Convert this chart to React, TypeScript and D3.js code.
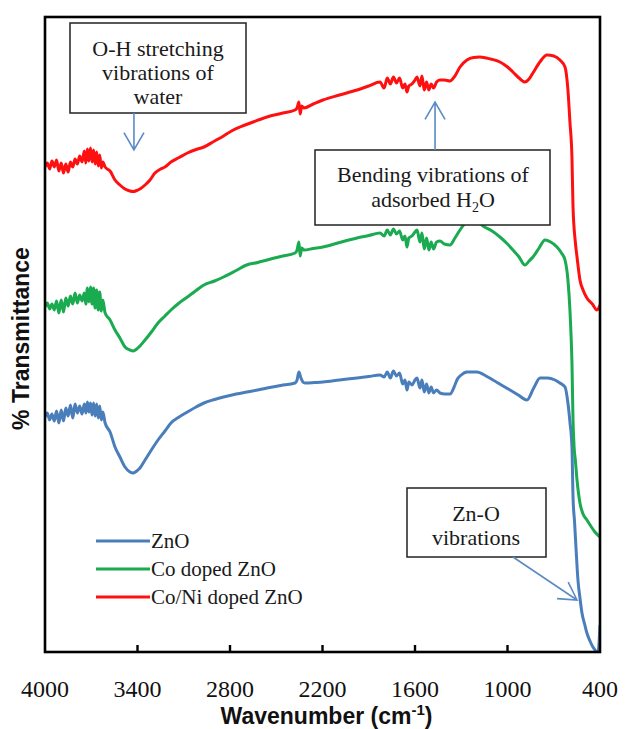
import React from "react";
import * as d3 from "d3";

// FTIR spectra of ZnO, Co doped ZnO and Co/Ni doped ZnO
const W = 625;
const H = 729;

const xTicks = [4000, 3400, 2800, 2200, 1600, 1000, 400];
const seriesNames = ["ZnO", "Co doped ZnO", "Co/Ni doped ZnO"];
const seriesColors = ["#4a7ebb", "#1aaa4f", "#ff1010"];

// [wavenumber (cm-1), transmittance (a.u.)]
const znoData: [number, number][] = [
  [4000, 47.0], [3985, 47.8], [3970, 46.4], [3955, 47.6], [3940, 46.2], [3925, 48.2], [3910, 45.8], [3895, 48.4],
  [3880, 46.2], [3865, 48.8], [3850, 47.2], [3835, 49.4], [3820, 46.8], [3805, 49.6], [3790, 47.8], [3775, 49.2],
  [3760, 47.6], [3745, 49.6], [3735, 47.8], [3725, 50.0], [3715, 48.0], [3705, 49.8], [3695, 47.4], [3685, 49.8],
  [3675, 47.2], [3665, 49.6], [3655, 46.8], [3645, 49.2], [3635, 46.4], [3625, 48.0], [3610, 45.8],
  [3578, 44.0], [3546, 41.0], [3514, 39.0], [3481, 37.0], [3449, 36.0], [3427, 35.8], [3405, 36.2], [3384, 36.8],
  [3351, 38.4], [3310, 40.4], [3267, 42.4], [3222, 44.2], [3183, 45.8], [3130, 47.0], [3076, 48.0], [3020, 49.0],
  [2969, 49.8], [2900, 50.5], [2842, 51.0], [2760, 51.6], [2692, 52.0], [2620, 52.4], [2560, 52.8], [2470, 53.3],
  [2378, 53.8], [2365, 54.4], [2353, 56.0], [2340, 54.8], [2327, 54.0], [2314, 53.8], [2250, 53.9], [2197, 54.0],
  [2090, 54.4], [1976, 54.8], [1900, 55.1], [1827, 55.4], [1800, 55.0], [1780, 56.0], [1760, 54.8], [1740, 56.2],
  [1720, 55.2], [1700, 55.8], [1680, 53.6], [1665, 54.4], [1652, 52.4], [1640, 54.0], [1620, 53.4], [1600, 54.4],
  [1587, 54.8], [1568, 52.8], [1555, 54.4], [1540, 52.0], [1525, 53.6], [1510, 51.8], [1495, 53.0], [1480, 51.8],
  [1460, 52.4], [1438, 51.8], [1406, 51.6], [1373, 51.6], [1341, 53.4], [1328, 54.4], [1300, 55.4], [1263, 56.0],
  [1198, 56.0], [1140, 55.2], [1094, 54.4], [1040, 53.4], [984, 52.4], [930, 51.4], [874, 50.4], [830, 52.8],
  [789, 54.8], [740, 54.8], [692, 54.4], [660, 53.8], [627, 53.0], [608, 49.8], [595, 46.0], [582, 41.0],
  [575, 31.0], [565, 26.0], [556, 21.0], [543, 14.4], [530, 10.8], [517, 7.8], [500, 5.6], [485, 3.8],
  [465, 2.2], [446, 1.0], [413, 0.0], [400, 5.4],
];

const coData: [number, number][] = [
  [4000, 69.0], [3985, 69.8], [3970, 68.6], [3955, 69.6], [3940, 68.4], [3925, 70.2], [3910, 67.8], [3895, 70.4],
  [3880, 68.0], [3865, 70.8], [3850, 69.2], [3835, 71.2], [3820, 69.6], [3805, 71.8], [3790, 69.8], [3775, 71.4],
  [3760, 70.2], [3745, 71.8], [3735, 69.6], [3725, 72.8], [3715, 70.0], [3705, 73.0], [3695, 69.6], [3685, 72.8],
  [3675, 68.8], [3665, 72.4], [3655, 68.4], [3645, 72.0], [3635, 68.2], [3625, 70.4], [3610, 67.8],
  [3578, 66.4], [3546, 64.4], [3514, 62.8], [3481, 61.0], [3449, 60.4], [3427, 60.2], [3405, 60.6], [3384, 61.2],
  [3351, 62.4], [3310, 64.0], [3267, 65.8], [3222, 67.2], [3183, 68.4], [3130, 69.8], [3076, 71.0], [3020, 72.3],
  [2969, 73.4], [2900, 74.2], [2842, 75.0], [2760, 76.3], [2692, 77.4], [2620, 77.9], [2560, 78.4], [2470, 79.1],
  [2378, 79.8], [2365, 80.4], [2353, 82.0], [2345, 79.2], [2335, 80.8], [2320, 80.4], [2260, 80.7], [2197, 81.0],
  [2090, 81.9], [1976, 82.8], [1900, 83.3], [1827, 83.8], [1800, 83.2], [1780, 84.4], [1760, 83.4], [1740, 84.6],
  [1720, 83.6], [1700, 84.2], [1680, 82.4], [1665, 83.2], [1652, 81.0], [1640, 82.8], [1620, 83.2], [1600, 84.0],
  [1587, 84.4], [1568, 82.0], [1555, 83.8], [1540, 80.6], [1525, 82.8], [1510, 80.4], [1495, 82.0], [1480, 80.6],
  [1460, 82.0], [1438, 82.2], [1410, 81.6], [1373, 81.4], [1341, 82.8], [1308, 84.4], [1263, 86.0], [1200, 86.2],
  [1159, 85.2], [1100, 84.2], [1049, 83.0], [1000, 81.6], [965, 80.4], [925, 79.0], [887, 77.4], [860, 78.2],
  [835, 79.0], [795, 80.8], [757, 82.4], [720, 82.0], [679, 81.0], [650, 79.8], [627, 78.4], [608, 74.4],
  [595, 68.4], [590, 65.0], [582, 58.0], [575, 46.4], [568, 41.0], [560, 38.4], [549, 34.4], [530, 29.8],
  [510, 27.6], [485, 26.4], [460, 25.2], [433, 24.0], [400, 23.0],
];

const coNiData: [number, number][] = [
  [4000, 97.0], [3985, 97.8], [3970, 96.6], [3955, 98.2], [3940, 97.0], [3925, 98.4], [3910, 96.2], [3895, 97.8],
  [3880, 95.8], [3865, 97.6], [3850, 96.0], [3835, 98.0], [3820, 97.0], [3805, 98.6], [3790, 97.6], [3775, 99.2],
  [3760, 98.0], [3745, 100.2], [3735, 97.8], [3725, 100.6], [3715, 98.2], [3705, 100.8], [3695, 98.0], [3685, 100.4],
  [3675, 97.6], [3665, 100.0], [3655, 97.2], [3645, 99.4], [3635, 96.8], [3625, 98.0], [3610, 97.0],
  [3578, 96.2], [3546, 94.4], [3514, 93.4], [3481, 92.6], [3449, 92.2], [3427, 92.1], [3405, 92.3], [3384, 92.6],
  [3351, 93.4], [3319, 94.4], [3287, 95.8], [3250, 96.6], [3222, 97.0], [3183, 98.0], [3130, 98.9], [3076, 99.8],
  [3020, 100.5], [2969, 101.0], [2900, 102.2], [2842, 103.2], [2790, 104.2], [2735, 105.0], [2650, 106.0], [2560, 107.0],
  [2470, 107.7], [2378, 108.4], [2365, 108.8], [2353, 110.0], [2345, 107.6], [2335, 109.2], [2320, 108.8], [2260, 109.6],
  [2197, 110.4], [2090, 111.4], [1976, 112.4], [1900, 113.2], [1827, 114.0], [1800, 112.8], [1780, 114.8], [1760, 113.6],
  [1740, 115.0], [1720, 113.8], [1700, 114.8], [1680, 112.8], [1665, 113.6], [1652, 112.0], [1640, 113.2], [1620, 113.6],
  [1600, 114.4], [1587, 115.0], [1568, 113.2], [1555, 115.2], [1540, 112.4], [1525, 114.0], [1510, 112.4], [1495, 113.6],
  [1480, 112.8], [1460, 114.0], [1438, 114.4], [1410, 114.4], [1373, 114.2], [1341, 115.2], [1308, 117.0], [1263, 118.4],
  [1220, 118.9], [1179, 119.0], [1110, 118.6], [1049, 118.0], [1000, 117.0], [965, 116.0], [925, 114.8], [887, 114.0],
  [860, 114.6], [835, 115.8], [790, 118.0], [744, 119.4], [700, 119.2], [660, 118.4], [627, 117.0], [608, 112.4],
  [595, 106.0], [582, 99.0], [575, 89.0], [560, 82.0], [549, 79.0], [530, 74.4], [510, 72.4], [485, 70.8],
  [450, 69.6], [420, 68.4], [400, 69.4],
];

const seriesData = [znoData, coData, coNiData];

// annotation texts and the point (in data units) each arrow points at
const ohLines = ["O-H stretching", "vibrations of", "water"];
const bendLines = ["Bending vibrations of", "adsorbed H"];
const znoLines = ["Zn-O", "vibrations"];
const ohTip: [number, number] = [3423, 100.4];
const bendTip: [number, number] = [1470, 110];
const znoTip: [number, number] = [549, 10.4];

const serif = "'Liberation Serif', 'Times New Roman', serif";
const sans = "'Liberation Sans', Arial, sans-serif";

const margin = { top: 17, right: 25, bottom: 77, left: 45 };
const xScale = d3.scaleLinear().domain([4000, 400]).range([margin.left, W - margin.right]);
const yScale = d3.scaleLinear().domain([0, 127]).range([H - margin.bottom, margin.top]);

function arrowPath(x1: number, y1: number, x2: number, y2: number) {
  const a = Math.atan2(y2 - y1, x2 - x1);
  const L = 20;
  const h = Math.PI / 6;
  const p1 = [x2 - L * Math.cos(a - h), y2 - L * Math.sin(a - h)];
  const p2 = [x2 - L * Math.cos(a + h), y2 - L * Math.sin(a + h)];
  return `M${x1},${y1}L${x2},${y2}M${p1[0]},${p1[1]}L${x2},${y2}L${p2[0]},${p2[1]}`;
}

export default function App() {
  const [x0, x1] = xScale.range();
  const [y0, y1] = yScale.range(); // y0 bottom, y1 top
  const line = d3
    .line<[number, number]>()
    .x((d) => xScale(d[0]))
    .y((d) => yScale(d[1]))
    .curve(d3.curveMonotoneX);

  const arrowColor = "#5b8bc6";

  return (
    <svg
      width={W}
      height={H}
      style={{ position: "absolute", left: 0, top: 0, background: "#fff" }}
    >
      <defs>
        <clipPath id="plot">
          <rect x={x0} y={y1} width={x1 - x0} height={y0 - y1} />
        </clipPath>
      </defs>
      <rect width={W} height={H} fill="#fff" />

      {/* spectra */}
      <g clipPath="url(#plot)">
        {seriesData.map((d, i) => (
          <path
            key={i}
            d={line(d) || ""}
            fill="none"
            stroke={seriesColors[i]}
            strokeWidth={3}
            strokeLinejoin="round"
          />
        ))}
      </g>

      {/* frame */}
      <rect
        x={x0}
        y={y1}
        width={x1 - x0}
        height={y0 - y1}
        fill="none"
        stroke="#000"
        strokeWidth={2.6}
      />
      {/* inward ticks on the bottom axis */}
      {xTicks.slice(1, -1).map((t) => (
        <line
          key={t}
          x1={xScale(t)}
          x2={xScale(t)}
          y1={y0}
          y2={y0 - 7}
          stroke="#000"
          strokeWidth={2.4}
        />
      ))}
      {xTicks.map((t) => (
        <text
          key={t}
          x={xScale(t)}
          y={697}
          textAnchor="middle"
          fontFamily={serif}
          fontSize={24}
          fill="#111"
        >
          {t}
        </text>
      ))}

      <text
        x={(x0 + x1) / 2 + 4}
        y={724}
        textAnchor="middle"
        fontFamily={sans}
        fontWeight="bold"
        fontSize={23}
        fill="#111"
      >
        Wavenumber (cm
        <tspan dy={-9} fontSize={15}>
          -1
        </tspan>
        <tspan dy={9}>)</tspan>
      </text>
      <text
        transform={`translate(29,${(y0 + y1) / 2 + 4}) rotate(-90)`}
        textAnchor="middle"
        fontFamily={sans}
        fontWeight="bold"
        fontSize={23}
        fill="#111"
      >
        % Transmittance
      </text>

      {/* annotations */}
      <g fontFamily={serif} fontSize={22} fill="#1a1a1a" textAnchor="middle">
        <rect x={70} y={23} width={176} height={90} fill="#fff" stroke="#222" strokeWidth={1.5} />
        {ohLines.map((s, i) => (
          <text key={s} x={158} y={56 + i * 24}>
            {s}
          </text>
        ))}
        <path
          d={arrowPath(xScale(ohTip[0]), 113, xScale(ohTip[0]), yScale(ohTip[1]))}
          fill="none"
          stroke={arrowColor}
          strokeWidth={1.6}
        />

        <rect x={315} y={150} width={235} height={75} fill="#fff" stroke="#222" strokeWidth={1.5} />
        <text x={433} y={182}>
          {bendLines[0]}
        </text>
        <text x={433} y={207}>
          {bendLines[1]}
          <tspan dy={5} fontSize={14}>
            2
          </tspan>
          <tspan dy={-5}>O</tspan>
        </text>
        <path
          d={arrowPath(xScale(bendTip[0]), 150, xScale(bendTip[0]), yScale(bendTip[1]))}
          fill="none"
          stroke={arrowColor}
          strokeWidth={1.6}
        />

        <rect x={407} y={488} width={139} height={69} fill="#fff" stroke="#222" strokeWidth={1.5} />
        {znoLines.map((s, i) => (
          <text key={s} x={476} y={521 + i * 24}>
            {s}
          </text>
        ))}
        <path
          d={arrowPath(513, 557, xScale(znoTip[0]), yScale(znoTip[1]))}
          fill="none"
          stroke={arrowColor}
          strokeWidth={1.6}
        />
      </g>

      {/* legend */}
      <g fontFamily={serif} fontSize={21} fill="#1a1a1a">
        {seriesNames.map((name, i) => (
          <g key={name} transform={`translate(96,${541 + i * 28})`}>
            <line x1={0} x2={54} y1={0} y2={0} stroke={seriesColors[i]} strokeWidth={3.2} />
            <text x={55} y={7}>
              {name}
            </text>
          </g>
        ))}
      </g>
    </svg>
  );
}
